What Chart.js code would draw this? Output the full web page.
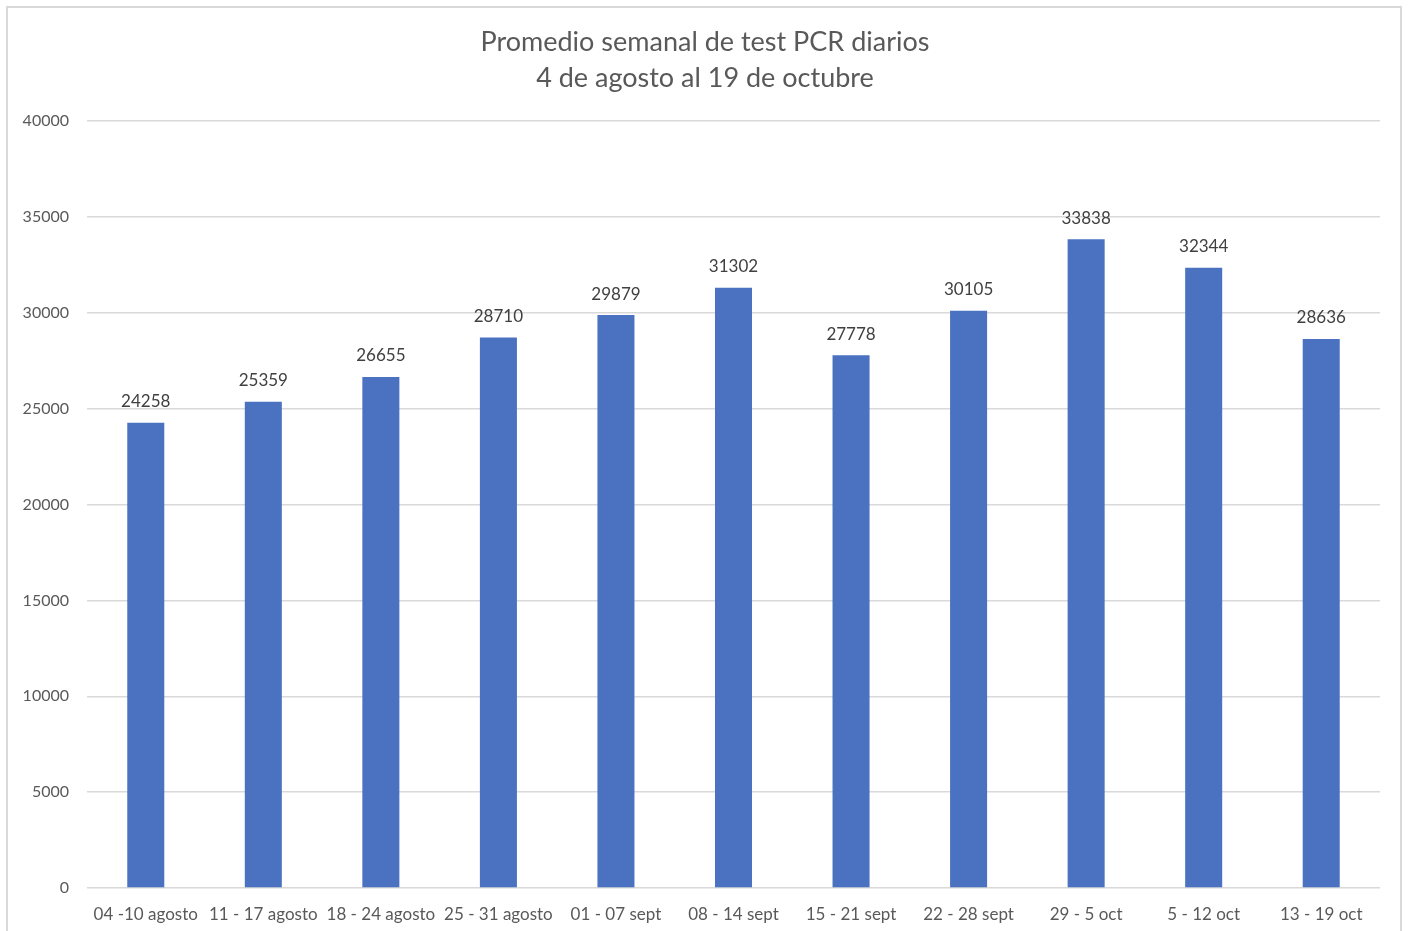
<!DOCTYPE html>
<html lang="es">
<head>
    <meta charset="UTF-8">
    <title>Promedio semanal de test PCR diarios</title>
    <script src="https://cdn.jsdelivr.net/npm/chart.js@4/dist/chart.umd.min.js"></script>
    <style>
        html, body {
            margin: 0;
            padding: 0;
            background: #ffffff;
            overflow: hidden;
        }
        .frame {
            position: absolute;
            left: 6px;
            top: 6px;
            width: 1396px;
            height: 940px;
            border: 2px solid #d9d9d9;
            box-sizing: border-box;
        }
        .chart-box {
            position: absolute;
            left: 0;
            top: 0;
            width: 1410px;
            height: 931px;
        }
    </style>
</head>
<body>
    <div class="frame"></div>
    <div class="chart-box">
        <canvas id="pcrChart"></canvas>
    </div>

    <script>
        // datos
        const semanas = ['04 -10 agosto', '11 - 17 agosto', '18 - 24 agosto', '25 - 31 agosto',
            '01 - 07 sept', '08 - 14 sept', '15 - 21 sept', '22 - 28 sept',
            '29 - 5 oct', '5 - 12 oct', '13 - 19 oct'];
        const promedioPCR = [24258, 25359, 26655, 28710, 29879, 31302, 27778, 30105, 33838, 32344, 28636];
        const tituloLineas = ['Promedio semanal de test PCR diarios', '4 de agosto al 19 de octubre'];

        const fuente = 'Lato, "Open Sans", sans-serif';

        // titulo centrado en todo el lienzo (no solo en la zona con padding)
        const tituloCentrado = {
            id: 'tituloCentrado',
            afterDraw(chart) {
                const ctx = chart.ctx;
                ctx.save();
                ctx.font = '27px ' + fuente;
                ctx.fillStyle = '#595959';
                ctx.textAlign = 'center';
                ctx.textBaseline = 'middle';
                tituloLineas.forEach(function(linea, i) {
                    ctx.fillText(linea, chart.width / 2, 42 + i * 36);
                });
                ctx.restore();
            }
        };

        // etiquetas de valor encima de cada barra
        const etiquetasValor = {
            id: 'etiquetasValor',
            afterDatasetsDraw(chart) {
                const ctx = chart.ctx;
                const meta = chart.getDatasetMeta(0);
                ctx.save();
                ctx.font = '17px ' + fuente;
                ctx.fillStyle = '#404040';
                ctx.textAlign = 'center';
                ctx.textBaseline = 'middle';
                meta.data.forEach(function(bar, i) {
                    ctx.fillText(String(promedioPCR[i]), bar.x, bar.y - 21);
                });
                ctx.restore();
            }
        };

        new Chart(document.getElementById('pcrChart'), {
            type: 'bar',
            data: {
                labels: semanas,
                datasets: [{
                    label: 'Promedio',
                    data: promedioPCR,
                    backgroundColor: '#4a72c0',
                    categoryPercentage: 1,
                    barPercentage: 0.315
                }]
            },
            options: {
                responsive: true,
                maintainAspectRatio: false,
                animation: false,
                layout: {
                    padding: { left: 0, right: 30, top: 121, bottom: 0 }
                },
                scales: {
                    x: {
                        grid: { display: false },
                        border: { display: false },
                        afterFit: function(scale) { scale.height = 43; },
                        ticks: {
                            color: '#595959',
                            font: { size: 17, family: fuente },
                            padding: 8,
                            maxRotation: 0,
                            autoSkip: false
                        }
                    },
                    y: {
                        min: 0,
                        max: 40000,
                        grid: { color: '#d9d9d9', lineWidth: 1.5, drawTicks: false },
                        border: { display: false },
                        afterFit: function(scale) { scale.width = 87; },
                        ticks: {
                            stepSize: 5000,
                            color: '#595959',
                            font: { size: 16, family: fuente },
                            padding: 18,
                            callback: function(value) { return String(value); }
                        }
                    }
                },
                plugins: {
                    legend: { display: false },
                    tooltip: { enabled: false },
                    title: { display: false }
                }
            },
            plugins: [etiquetasValor, tituloCentrado]
        });
    </script>
</body>
</html>
